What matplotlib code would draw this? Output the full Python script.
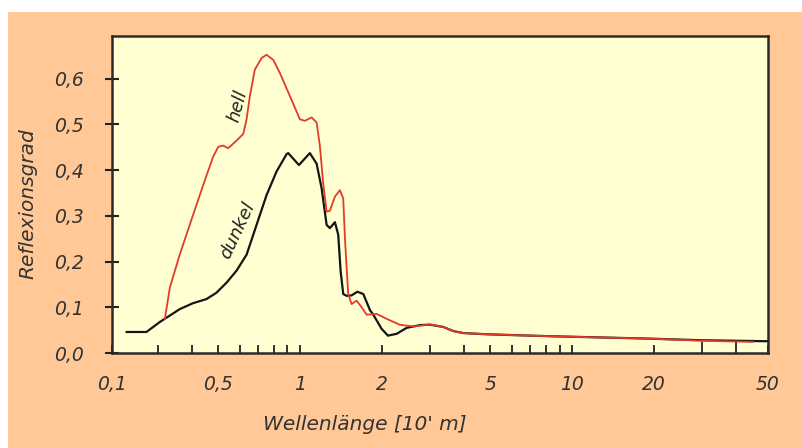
import numpy as np
import matplotlib
matplotlib.use("Agg")
import matplotlib.pyplot as plt
import matplotlib.patches as mpatches
from matplotlib.ticker import FixedLocator, NullFormatter

plt.rcParams['font.family'] = ['DejaVu Sans']

# reflectance curves (wavelength in 1e-6 m)
dunkel_x = [0.231, 0.273, 0.306, 0.362, 0.405, 0.454, 0.494, 0.538, 0.585, 0.637,
            0.693, 0.754, 0.821, 0.894, 0.906, 0.992, 1.088, 1.152, 1.202, 1.254,
            1.289, 1.345, 1.383, 1.411, 1.443, 1.485, 1.549, 1.626, 1.71, 1.81,
            1.856, 1.996, 2.107, 2.267, 2.468, 2.762, 3.005, 3.364, 3.662, 3.98,
            4.86, 6.44, 8.51, 19.4, 29.6, 52.0]
dunkel_y = [0.046, 0.046, 0.068, 0.096, 0.109, 0.118, 0.132, 0.154, 0.180, 0.215,
            0.280, 0.345, 0.397, 0.435, 0.437, 0.411, 0.437, 0.414, 0.360, 0.280,
            0.273, 0.286, 0.259, 0.180, 0.129, 0.125, 0.126, 0.134, 0.129, 0.0935,
            0.085, 0.053, 0.038, 0.042, 0.055, 0.061, 0.062, 0.057, 0.048, 0.0437,
            0.041, 0.0387, 0.0366, 0.0314, 0.028, 0.0258]

hell_x = [0.319, 0.333, 0.362, 0.405, 0.454, 0.480, 0.501, 0.522, 0.545, 0.585,
          0.619, 0.637, 0.655, 0.683, 0.723, 0.754, 0.798, 0.844, 0.919, 1.0,
          1.043, 1.104, 1.152, 1.184, 1.218, 1.254, 1.289, 1.345, 1.403, 1.443,
          1.464, 1.485, 1.505, 1.549, 1.616, 1.686, 1.759, 1.914, 2.084, 2.331,
          2.609, 3.005, 3.364, 3.662, 3.98, 4.86, 6.44, 8.51, 19.4, 29.6, 46.2]
hell_y = [0.0747, 0.1437, 0.2154, 0.302, 0.3885, 0.429, 0.4507, 0.4535, 0.4478, 0.4643,
          0.4788, 0.511, 0.5617, 0.6195, 0.6448, 0.652, 0.641, 0.6123, 0.5617, 0.511,
          0.5076, 0.515, 0.504, 0.4535, 0.3706, 0.309, 0.311, 0.342, 0.356, 0.338,
          0.2515, 0.1866, 0.1288, 0.107, 0.1145, 0.100, 0.0838, 0.0855, 0.0747, 0.0617,
          0.058, 0.0625, 0.057, 0.048, 0.0437, 0.041, 0.0387, 0.0366, 0.0314, 0.027, 0.0242]

x_lo, x_hi = 0.204, 52.5
label_pos = [x_lo, 0.5, 1, 2, 5, 10, 20, x_hi]
label_txt = ['0,1', '0,5', '1', '2', '5', '10', '20', '50']
mark_pos = [0.3, 0.4, 0.6, 0.7, 0.8, 0.9, 3, 4, 6, 7, 8, 9]
long_marks = [30, 40]
y_ticks = [0.0, 0.1, 0.2, 0.3, 0.4, 0.5, 0.6]

fig = plt.figure(figsize=(8.03, 4.48), dpi=100, facecolor='white')
fig.patches.append(mpatches.Rectangle((0.01, 0), 0.99, 0.973, transform=fig.transFigure,
                                      facecolor='#FFC896', edgecolor='none', zorder=-10))
ax = fig.add_axes([0.1395, 0.212, 0.8169, 0.7076])
ax.set_facecolor('#FFFFD2')

ax.plot(dunkel_x, dunkel_y, color='#151515', lw=1.6, zorder=3)
ax.plot(hell_x, hell_y, color='#E33A2C', lw=1.3, zorder=4)

ax.set_xscale('log')
ax.set_xlim(x_lo, x_hi)
ax.set_ylim(0.007, 0.693)

ax.xaxis.set_major_locator(FixedLocator(label_pos))
ax.set_xticklabels(label_txt)
ax.xaxis.set_minor_locator(FixedLocator(mark_pos))
ax.xaxis.set_minor_formatter(NullFormatter())
ax.tick_params(axis='x', which='both', direction='in', length=5.5, width=1.3,
               color='#222222', pad=16)

sec = ax.secondary_xaxis('bottom')
sec.set_xticks(long_marks)
sec.tick_params(axis='x', which='both', direction='in', length=8, width=1.3,
                color='#222222', labelbottom=False)
sec.xaxis.set_minor_locator(FixedLocator([]))
sec.spines['bottom'].set_visible(False)

ax.set_yticks(y_ticks)
ax.set_yticklabels([f'{v:.1f}'.replace('.', ',') for v in y_ticks])
ax.tick_params(axis='y', direction='inout', length=10, width=1.5, color='#222222', pad=15)

for lab in ax.get_xticklabels() + ax.get_yticklabels():
    lab.set_fontstyle('italic')
    lab.set_fontsize(13.5)
    lab.set_color('#333333')

for sp in ax.spines.values():
    sp.set_linewidth(1.8)
    sp.set_color('#2a2a2a')

ax.set_xlabel("Wellenlänge [10' m]", fontsize=14.5, style='italic', color='#333333')
ax.xaxis.set_label_coords(0.386, -0.196)
ax.set_ylabel('Reflexionsgrad', fontsize=14.5, style='italic', color='#333333')
ax.yaxis.set_label_coords(-0.114, 0.47)

ax.text(0.592, 0.54, 'hell', rotation=75, fontsize=13, style='italic', color='#222222',
        ha='center', va='center')
ax.text(0.589, 0.269, 'dunkel', rotation=65, fontsize=13, style='italic', color='#222222',
        ha='center', va='center')

fig.savefig('out.png', dpi=100, facecolor=fig.get_facecolor())
